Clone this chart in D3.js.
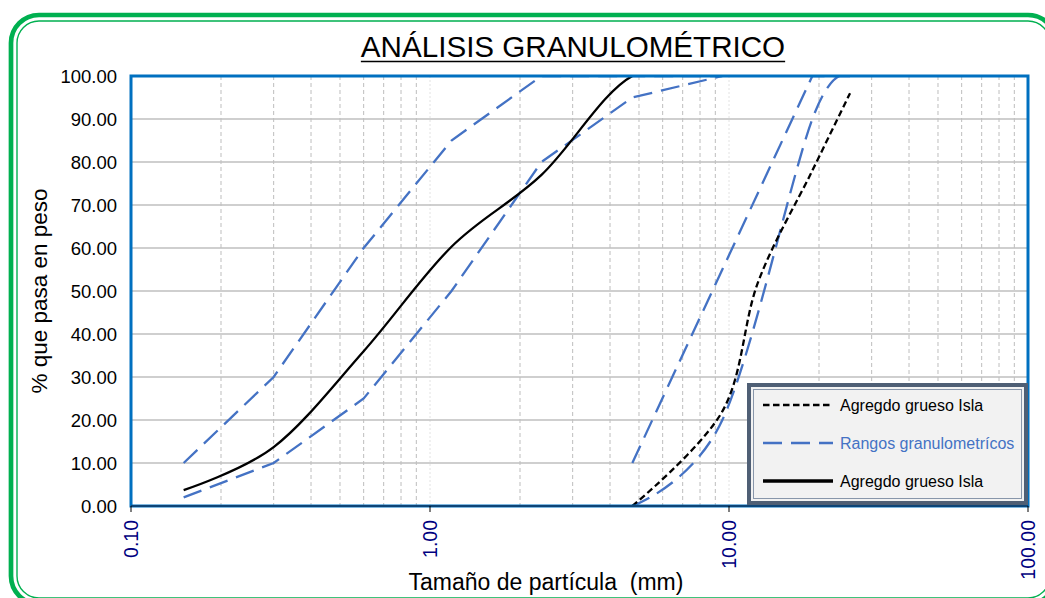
<!DOCTYPE html>
<html>
<head>
<meta charset="utf-8">
<script src="https://cdn.jsdelivr.net/npm/d3@7"></script>
<style>
  html, body { margin: 0; padding: 0; background: #fff; }
  svg { display: block; font-family: Arial, "Liberation Sans", sans-serif; }
</style>
</head>
<body>
<div id="chart"></div>
<script>
// ─── Data ────────────────────────────────────────────────────────────────────
// fine aggregate limits + sample, sieve sizes in mm
const fineSizes  = [0.15, 0.3, 0.6, 1.18, 2.36, 4.75, 9.5];
const fineUpper  = [10, 30, 60, 85, 100, 100, 100];
const fineLower  = [2, 10, 25, 50, 80, 95, 100];
const fineSample = [3.7, 13.7, 36, 60.3, 77, 100, 100];

// coarse aggregate limits + sample
const coarseSizes       = [4.75, 9.5, 19, 25.4];
const coarseUpper       = [10, 55, 100, 100];
const coarseLower       = [0, 20, 90, 100];
const coarseSampleSizes = [4.75, 9.5, 12.5, 19, 25.4];
const coarseSample      = [0, 22, 52, 78, 96];

const xTickValues = [0.1, 1, 10, 100];
const yTickValues = [0, 10, 20, 30, 40, 50, 60, 70, 80, 90, 100];
const legendLabels = ['Agregdo grueso Isla', 'Rangos granulometrícos', 'Agregdo grueso Isla'];

const W = 1045, H = 598;
const plot = { left: 131, right: 1028, top: 76, bottom: 506 };

const BLUE = '#4472c4';
const zip = (xs, ys) => xs.map((v, i) => [v, ys[i]]);

const svg = d3.select('#chart').append('svg').attr('width', W).attr('height', H);

// ─── Green rounded frame (runs past the window edge) ─────────────────────────
svg.append('rect')
    .attr('x', 11).attr('y', 15).attr('width', 1045).attr('height', 589)
    .attr('rx', 28).attr('ry', 28)
    .attr('fill', 'none').attr('stroke', '#00b050').attr('stroke-width', 4.7);
svg.append('rect')
    .attr('x', 17).attr('y', 21).attr('width', 1033).attr('height', 577)
    .attr('rx', 22).attr('ry', 22)
    .attr('fill', 'none').attr('stroke', '#00b050').attr('stroke-width', 1.4);

// ─── Scales ──────────────────────────────────────────────────────────────────
const x = d3.scaleLog().domain([0.1, 100]).range([plot.left, plot.right]);
const y = d3.scaleLinear().domain([0, 100]).range([plot.bottom, plot.top]);

// ─── Grid ────────────────────────────────────────────────────────────────────
const grid = svg.append('g');
const minor = x.ticks().filter(v => xTickValues.indexOf(v) < 0 && v > 0.1 && v < 100);
grid.selectAll('.vgrid')
    .data(minor)
    .enter().append('line')
    .attr('x1', d => x(d)).attr('x2', d => x(d))
    .attr('y1', plot.top).attr('y2', plot.bottom)
    .attr('stroke', '#bdbdbd').attr('stroke-width', 1)
    .attr('stroke-dasharray', '4,3');
grid.selectAll('.vdec')
    .data([1, 10])
    .enter().append('line')
    .attr('x1', d => x(d)).attr('x2', d => x(d))
    .attr('y1', plot.top).attr('y2', plot.bottom)
    .attr('stroke', '#e2e2e2').attr('stroke-width', 1)
    .attr('stroke-dasharray', '2,2');
grid.selectAll('.hgrid')
    .data(yTickValues.slice(1, -1))
    .enter().append('line')
    .attr('x1', plot.left).attr('x2', plot.right)
    .attr('y1', d => y(d)).attr('y2', d => y(d))
    .attr('stroke', '#bfbfbf').attr('stroke-width', 1.3);

// ─── Series ──────────────────────────────────────────────────────────────────
svg.append('clipPath').attr('id', 'plotclip').append('rect')
    .attr('x', plot.left).attr('y', plot.top - 1)
    .attr('width', plot.right - plot.left).attr('height', plot.bottom - plot.top + 2);

const series = svg.append('g').attr('clip-path', 'url(#plotclip)');
const straight = d3.line().x(d => x(d[0])).y(d => y(d[1]));
const smooth = d3.line().x(d => x(d[0])).y(d => y(d[1])).curve(d3.curveCardinal.tension(0));

const lines = [
    { pts: zip(fineSizes, fineUpper), gen: straight, color: BLUE, dash: '19,9' },
    { pts: zip(fineSizes, fineLower), gen: straight, color: BLUE, dash: '19,9' },
    { pts: zip(coarseSizes, coarseUpper), gen: straight, color: BLUE, dash: '19,9' },
    { pts: zip(coarseSizes, coarseLower), gen: smooth, color: BLUE, dash: '19,9' },
    { pts: zip(coarseSampleSizes, coarseSample), gen: smooth, color: '#000', dash: '6.5,3.5' },
    { pts: zip(fineSizes, fineSample), gen: smooth, color: '#000', dash: null }
];
lines.forEach(s => {
    series.append('path')
        .attr('d', s.gen(s.pts))
        .attr('fill', 'none')
        .attr('stroke', s.color)
        .attr('stroke-width', 2.3)
        .attr('stroke-dasharray', s.dash);
});

// ─── Plot frame + axes ───────────────────────────────────────────────────────
svg.append('rect')
    .attr('x', plot.left).attr('y', plot.top)
    .attr('width', plot.right - plot.left).attr('height', plot.bottom - plot.top)
    .attr('fill', 'none').attr('stroke', '#0070c0').attr('stroke-width', 3);
svg.append('line')
    .attr('x1', plot.left).attr('x2', plot.right)
    .attr('y1', plot.bottom).attr('y2', plot.bottom)
    .attr('stroke', '#1a1a2e').attr('stroke-width', 1.2);

const xAxis = svg.append('g');
xAxis.selectAll('.xtick')
    .data(xTickValues)
    .enter().append('line')
    .attr('x1', d => x(d)).attr('x2', d => x(d))
    .attr('y1', plot.bottom).attr('y2', plot.bottom + 6)
    .attr('stroke', '#000').attr('stroke-width', 1);
xAxis.selectAll('.xlabel')
    .data(xTickValues)
    .enter().append('text')
    .attr('transform', d => `translate(${x(d) + 7},520) rotate(-90)`)
    .attr('text-anchor', 'end')
    .style('font-size', '19.5px')
    .style('fill', '#000080')
    .text(d => d3.format('.2f')(d));

svg.selectAll('.ylabel')
    .data(yTickValues)
    .enter().append('text')
    .attr('x', 117).attr('y', d => y(d) + 6.5)
    .attr('text-anchor', 'end')
    .style('font-size', '18.5px')
    .style('fill', '#000')
    .text(d => d3.format('.2f')(d));

// ─── Titles ──────────────────────────────────────────────────────────────────
const title = svg.append('text')
    .attr('x', 573).attr('y', 57)
    .attr('text-anchor', 'middle')
    .style('font-size', '29.6px')
    .style('fill', '#000')
    .text('ANÁLISIS GRANULOMÉTRICO');
const tb = title.node().getBBox();
svg.append('line')
    .attr('x1', tb.x).attr('x2', tb.x + tb.width)
    .attr('y1', 61.5).attr('y2', 61.5)
    .attr('stroke', '#000').attr('stroke-width', 1.6);

svg.append('text')
    .attr('x', 546).attr('y', 590)
    .attr('text-anchor', 'middle')
    .style('font-size', '23px')
    .style('white-space', 'pre')
    .text('Tamaño de partícula  (mm)');

svg.append('text')
    .attr('transform', 'translate(47,291) rotate(-90)')
    .attr('text-anchor', 'middle')
    .style('font-size', '22.5px')
    .text('% que pasa en peso');

// ─── Legend ──────────────────────────────────────────────────────────────────
const lg = svg.append('g');
lg.append('rect')
    .attr('x', 749).attr('y', 385).attr('width', 277).attr('height', 118)
    .attr('fill', '#f2f2f2').attr('stroke', '#4f5f75').attr('stroke-width', 4);
lg.append('rect')
    .attr('x', 753.5).attr('y', 389.5).attr('width', 268).attr('height', 109)
    .attr('fill', 'none').attr('stroke', '#8896aa').attr('stroke-width', 1);

const legendStyles = [
    { color: '#000', dash: '6.5,3.5', width: 2.3, text: '#000' },
    { color: BLUE, dash: '19,9', width: 2.3, text: BLUE },
    { color: '#000', dash: null, width: 3.4, text: '#000' }
];
const rowY = [405, 443, 481];
legendLabels.forEach((label, i) => {
    const st = legendStyles[i];
    lg.append('line')
        .attr('x1', 763).attr('x2', 833)
        .attr('y1', rowY[i]).attr('y2', rowY[i])
        .attr('stroke', st.color).attr('stroke-width', st.width)
        .attr('stroke-dasharray', st.dash);
    lg.append('text')
        .attr('x', 840).attr('y', rowY[i] + 5.5)
        .style('font-size', '16px')
        .style('fill', st.text)
        .text(label);
});
</script>
</body>
</html>
